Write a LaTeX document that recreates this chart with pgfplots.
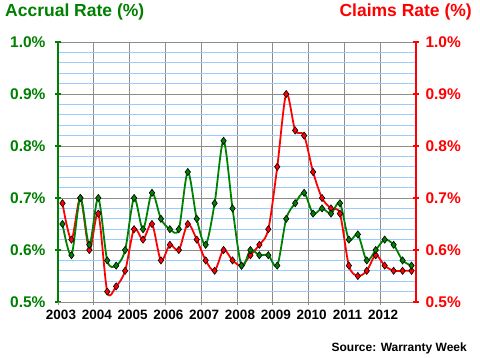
\documentclass[border=0pt]{standalone}
\usepackage{pgfplots}
\pgfplotsset{compat=1.18}
\usepackage{fontspec}
\setmainfont{Liberation Sans}
\definecolor{xlgreen}{RGB}{0,128,0}
\definecolor{xlred}{RGB}{255,0,0}
\definecolor{gridblue}{RGB}{153,204,255}
\definecolor{gridgray}{RGB}{140,140,140}
\begin{document}
\begin{tikzpicture}[x=1pt,y=1pt]
\useasboundingbox (0,0) rectangle (480,357);
\begin{axis}[
  at={(58pt,55pt)}, anchor=south west, scale only axis,
  width=358pt, height=260pt,
  xmin=2003, xmax=2013, ymin=0.5, ymax=1.0,
  axis y line*=left, axis x line*=bottom,
  axis line style={-},
  y axis line style={xlgreen, line width=2.5pt},
  x axis line style={gridgray, line width=0.8pt},
  xtick={2003,2004,2005,2006,2007,2008,2009,2010,2011,2012},
  xticklabels={2003,2004,2005,2006,2007,2008,2009,2010,2011,2012},
  ytick={0.5,0.6,0.7,0.8,0.9,1.0},
  minor y tick num=4,
  minor tick length=0pt,
  major tick length=6pt,
  tick align=center,
  ytick style={xlgreen, line width=2pt},
  xtick style={gridgray, line width=0.8pt},
  grid=both,
  major grid style={gridgray, line width=0.8pt},
  minor grid style={gridblue, line width=0.8pt},
  /pgf/number format/assume math mode=true,
  yticklabel={\pgfmathprintnumber[fixed,fixed zerofill,precision=1]{\tick}\%},
  yticklabel style={text=xlgreen, font=\bfseries\fontsize{15.5}{15.5}\selectfont, anchor=east, xshift=-6pt},
  xticklabel style={text=black, font=\bfseries\fontsize{13.5}{13.5}\selectfont, xshift=3pt, yshift=-2pt},
  clip=false,
]
\addplot[xlred, line width=1.8pt, smooth, tension=0.5, mark=diamond*, mark size=3.6pt,
  mark options={fill=xlred, draw=black, line width=0.6pt}] coordinates {
(2003.125,0.69) (2003.375,0.62) (2003.625,0.70) (2003.875,0.60)
(2004.125,0.67) (2004.375,0.52) (2004.625,0.53) (2004.875,0.56)
(2005.125,0.64) (2005.375,0.62) (2005.625,0.65) (2005.875,0.58)
(2006.125,0.61) (2006.375,0.60) (2006.625,0.65) (2006.875,0.62)
(2007.125,0.58) (2007.375,0.56) (2007.625,0.60) (2007.875,0.58)
(2008.125,0.57) (2008.375,0.59) (2008.625,0.61) (2008.875,0.64)
(2009.125,0.76) (2009.375,0.90) (2009.625,0.83) (2009.875,0.82)
(2010.125,0.75) (2010.375,0.70) (2010.625,0.68) (2010.875,0.67)
(2011.125,0.57) (2011.375,0.55) (2011.625,0.56) (2011.875,0.59)
(2012.125,0.57) (2012.375,0.56) (2012.625,0.56) (2012.875,0.56)
};
\addplot[xlgreen, line width=1.8pt, smooth, tension=0.5, mark=diamond*, mark size=3.6pt,
  mark options={fill=xlgreen, draw=black, line width=0.6pt}] coordinates {
(2003.125,0.65) (2003.375,0.59) (2003.625,0.70) (2003.875,0.61)
(2004.125,0.70) (2004.375,0.58) (2004.625,0.57) (2004.875,0.60)
(2005.125,0.70) (2005.375,0.64) (2005.625,0.71) (2005.875,0.66)
(2006.125,0.64) (2006.375,0.64) (2006.625,0.75) (2006.875,0.66)
(2007.125,0.61) (2007.375,0.69) (2007.625,0.81) (2007.875,0.68)
(2008.125,0.57) (2008.375,0.60) (2008.625,0.59) (2008.875,0.59)
(2009.125,0.57) (2009.375,0.66) (2009.625,0.69) (2009.875,0.71)
(2010.125,0.67) (2010.375,0.68) (2010.625,0.67) (2010.875,0.69)
(2011.125,0.62) (2011.375,0.63) (2011.625,0.58) (2011.875,0.60)
(2012.125,0.62) (2012.375,0.61) (2012.625,0.58) (2012.875,0.57)
};
\end{axis}
\begin{axis}[
  at={(58pt,55pt)}, anchor=south west, scale only axis,
  width=358pt, height=260pt,
  xmin=2003, xmax=2013, ymin=0.5, ymax=1.0,
  axis y line*=right, axis x line=none,
  axis line style={-},
  y axis line style={xlred, line width=2.5pt},
  ytick={0.5,0.6,0.7,0.8,0.9,1.0},
  major tick length=6pt,
  tick align=center,
  ytick style={xlred, line width=2pt},
  /pgf/number format/assume math mode=true,
  yticklabel={\pgfmathprintnumber[fixed,fixed zerofill,precision=1]{\tick}\%},
  yticklabel style={text=xlred, font=\bfseries\fontsize{15.5}{15.5}\selectfont, anchor=west, xshift=3pt},
  clip=false,
]
\addplot[draw=none] coordinates {(2003,0.5)};
\end{axis}
\node[anchor=base west, text=xlgreen, font=\bfseries\fontsize{17.5}{17.5}\selectfont, inner sep=0pt] at (5,340) {Accrual Rate (\%)};
\node[anchor=base east, text=xlred, font=\bfseries\fontsize{17.5}{17.5}\selectfont, inner sep=0pt] at (472,340) {Claims Rate (\%)};
\node[anchor=base east, text=black, font=\bfseries\fontsize{12}{12}\selectfont, inner sep=0pt] at (467,6) {Source: Warranty Week};
\end{tikzpicture}
\end{document}
